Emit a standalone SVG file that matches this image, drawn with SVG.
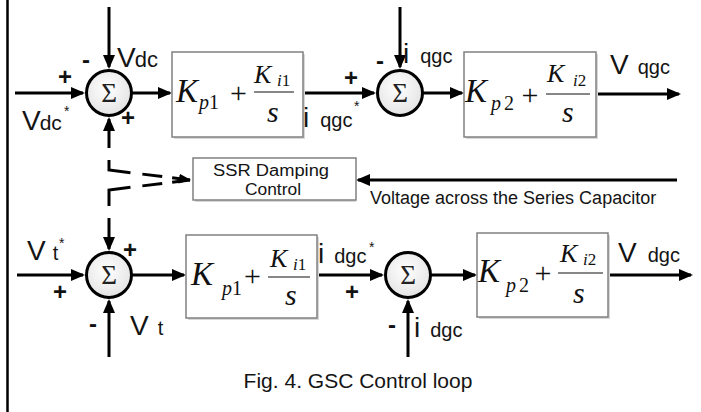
<svg xmlns="http://www.w3.org/2000/svg" width="701" height="412" viewBox="0 0 701 412">
<style>
.ln{stroke:#000;stroke-width:3;fill:none}
.arr{marker-end:url(#ah)}
.dash{stroke:#000;stroke-width:3;fill:none;stroke-dasharray:18 10 20 12 34 0}
.box{fill:#fff;stroke:#808080;stroke-width:1.5}
.shd{fill:#d8d8d8}
.sum{fill:url(#sg);stroke:#000;stroke-width:3}
.sig{font-family:"Liberation Serif","Times New Roman",serif;font-size:27px;fill:#222;text-anchor:middle}
.t{font-family:"Liberation Sans",Arial,sans-serif;fill:#141414}
.big{font-size:28px}
.sub{font-size:20px}
.ast{font-size:14px}
.sg{font-family:"Liberation Sans",Arial,sans-serif;font-size:24px;font-weight:bold;fill:#111;text-anchor:middle}
.eq{font-family:"Liberation Serif","Times New Roman",serif;fill:#111}
.it{font-style:italic}
.bar{stroke:#111;stroke-width:1.2}
</style>
<defs>
<marker id="ah" markerUnits="userSpaceOnUse" markerWidth="14" markerHeight="14" viewBox="0 0 14 14" refX="12" refY="7" orient="auto">
<path d="M0,1 L14,7 L0,13 z" fill="#000"/>
</marker>
<marker id="ahs" markerUnits="userSpaceOnUse" markerWidth="12" markerHeight="12" viewBox="0 0 12 12" refX="11" refY="6" orient="auto-start-reverse">
<path d="M0,1 L12,6 L0,11 z" fill="#000"/>
</marker>
<radialGradient id="sg" cx="0.45" cy="0.4" r="0.6">
<stop offset="0" stop-color="#ffffff"/>
<stop offset="1" stop-color="#e4e4e4"/>
</radialGradient>
</defs>
<rect width="701" height="412" fill="#fff"/>
<line x1="7.5" y1="0" x2="7.5" y2="412" stroke="#000" stroke-width="2.5"/>

<g id="connectors">
<path class="ln arr" d="M15,93 H83"/>
<path class="ln arr" d="M109,7 V67"/>
<path class="ln arr" d="M131,93 H170"/>
<path class="ln arr" d="M303,93 H374"/>
<path class="ln arr" d="M400,7 V67"/>
<path class="ln arr" d="M422,93 H462"/>
<path class="ln arr" d="M596,94 H679"/>
<path class="ln arr" d="M109,148 V119"/>
<path class="ln arr" d="M677,180 H358"/>
<path class="dash" d="M190,180 L109,170 V160" style="marker-start:url(#ahs)"/>
<path class="dash" d="M190,180 L109,190 V206"/>
<path class="ln arr" d="M109,218 V249"/>
<path class="ln arr" d="M17,275 H83"/>
<path class="ln arr" d="M109,357 V301"/>
<path class="ln arr" d="M131,275 H184"/>
<path class="ln arr" d="M317,275 H382"/>
<path class="ln arr" d="M408,357 V301"/>
<path class="ln arr" d="M430,275 H475"/>
<path class="ln arr" d="M608,275 H691"/>
</g>

<g id="sum1"><circle class="sum" cx="109" cy="93" r="22.5"/><text class="sig" x="109" y="102">Σ</text></g>
<g id="sum2"><circle class="sum" cx="400" cy="93" r="22.5"/><text class="sig" x="400" y="102">Σ</text></g>
<g id="sum3"><circle class="sum" cx="109" cy="275" r="22.5"/><text class="sig" x="109" y="284">Σ</text></g>
<g id="sum4"><circle class="sum" cx="408" cy="275" r="22.5"/><text class="sig" x="408" y="284">Σ</text></g>

<g id="pi1">
<rect class="shd" x="174" y="54" width="131" height="85"/>
<rect class="box" x="172" y="52" width="131" height="85"/>
<text class="eq it" x="176" y="102" font-size="33">K</text>
<text class="eq" x="199" y="109" font-size="20"><tspan font-style="italic">p</tspan>1</text>
<text class="eq" x="238.5" y="103" font-size="30" text-anchor="middle">+</text>
<text class="eq it" x="254" y="83" font-size="26">K</text>
<text class="eq" x="277" y="86" font-size="17"><tspan font-style="italic">i</tspan>1</text>
<line class="bar" x1="254" y1="92" x2="294" y2="92"/>
<text class="eq it" x="267" y="122" font-size="30">s</text>
</g>

<g id="pi2">
<rect class="shd" x="466" y="54" width="132" height="85"/>
<rect class="box" x="464" y="52" width="132" height="85"/>
<text class="eq it" x="465" y="102" font-size="33">K</text>
<text class="eq" x="491" y="110" font-size="20"><tspan font-style="italic">p</tspan><tspan dx="3">2</tspan></text>
<text class="eq" x="530" y="105" font-size="30" text-anchor="middle">+</text>
<text class="eq it" x="547" y="82" font-size="26">K</text>
<text class="eq" x="573" y="86" font-size="17"><tspan font-style="italic">i</tspan>2</text>
<line class="bar" x1="546" y1="94" x2="590" y2="94"/>
<text class="eq it" x="562" y="122" font-size="30">s</text>
</g>

<g id="pi3">
<rect class="shd" x="188" y="237" width="131" height="83"/>
<rect class="box" x="186" y="235" width="131" height="83"/>
<text class="eq it" x="191" y="285" font-size="33">K</text>
<text class="eq" x="222" y="295" font-size="20"><tspan font-style="italic">p</tspan>1</text>
<text class="eq" x="252.5" y="286" font-size="30" text-anchor="middle">+</text>
<text class="eq it" x="270" y="267" font-size="26">K</text>
<text class="eq" x="293" y="270" font-size="17"><tspan font-style="italic">i</tspan>1</text>
<line class="bar" x1="268" y1="277" x2="310" y2="277"/>
<text class="eq it" x="285" y="305" font-size="30">s</text>
</g>

<g id="pi4">
<rect class="shd" x="479" y="235" width="131" height="84"/>
<rect class="box" x="477" y="233" width="131" height="84"/>
<text class="eq it" x="478" y="282" font-size="33">K</text>
<text class="eq" x="506" y="292" font-size="20"><tspan font-style="italic">p</tspan><tspan dx="3">2</tspan></text>
<text class="eq" x="543" y="283" font-size="30" text-anchor="middle">+</text>
<text class="eq it" x="560" y="262" font-size="26">K</text>
<text class="eq" x="583" y="265" font-size="17"><tspan font-style="italic">i</tspan>2</text>
<line class="bar" x1="558" y1="273" x2="603" y2="273"/>
<text class="eq it" x="573" y="303" font-size="30">s</text>
</g>

<g id="ssr">
<rect class="shd" x="195" y="160" width="161" height="42"/>
<rect class="box" x="193" y="158" width="163" height="42"/>
<text class="t" x="213" y="176" font-size="16" textLength="116" lengthAdjust="spacingAndGlyphs">SSR Damping</text>
<text class="t" x="245" y="195" font-size="16" textLength="56" lengthAdjust="spacingAndGlyphs">Control</text>
</g>

<g id="labels">
<text class="t" x="370" y="204" font-size="18">Voltage across the Series Capacitor</text>
<text class="t" x="117" y="67"><tspan class="big">V</tspan><tspan font-size="22" dx="-1">dc</tspan></text>
<text class="t" x="22" y="130"><tspan class="big">V</tspan><tspan font-size="21" dx="-1">dc</tspan></text>
<text class="t ast" x="64" y="116">*</text>
<text class="t" x="303" y="127"><tspan class="big">i</tspan><tspan class="sub" dx="11">qgc</tspan></text>
<text class="t ast" x="354" y="111">*</text>
<text class="t" x="403" y="63"><tspan class="big">i</tspan><tspan class="sub" dx="11">qgc</tspan></text>
<text class="t" x="610" y="74"><tspan class="big">V</tspan><tspan class="sub" dx="9">qgc</tspan></text>
<text class="t" x="27" y="260"><tspan class="big">V</tspan><tspan class="sub" dx="7">t</tspan></text>
<text class="t ast" x="59" y="248">*</text>
<text class="t" x="130" y="335"><tspan class="big">V</tspan><tspan class="sub" dx="9">t</tspan></text>
<text class="t" x="318" y="263"><tspan class="big">i</tspan><tspan class="sub" dx="10">dgc</tspan></text>
<text class="t ast" x="369" y="252">*</text>
<text class="t" x="414" y="337"><tspan class="big">i</tspan><tspan class="sub" dx="10">dgc</tspan></text>
<text class="t" x="618" y="262"><tspan class="big">V</tspan><tspan class="sub" dx="11">dgc</tspan></text>
<text class="sg" x="65" y="85">+</text>
<text class="sg" x="86" y="68">-</text>
<text class="sg" x="128" y="126">+</text>
<text class="sg" x="351" y="86">+</text>
<text class="sg" x="380" y="69">-</text>
<text class="sg" x="130" y="258">+</text>
<text class="sg" x="60" y="300">+</text>
<text class="sg" x="93" y="332">-</text>
<text class="sg" x="352" y="300">+</text>
<text class="sg" x="392" y="333">-</text>
<text class="t" x="358" y="388" font-size="21" text-anchor="middle">Fig. 4. GSC Control loop</text>
</g>
</svg>
